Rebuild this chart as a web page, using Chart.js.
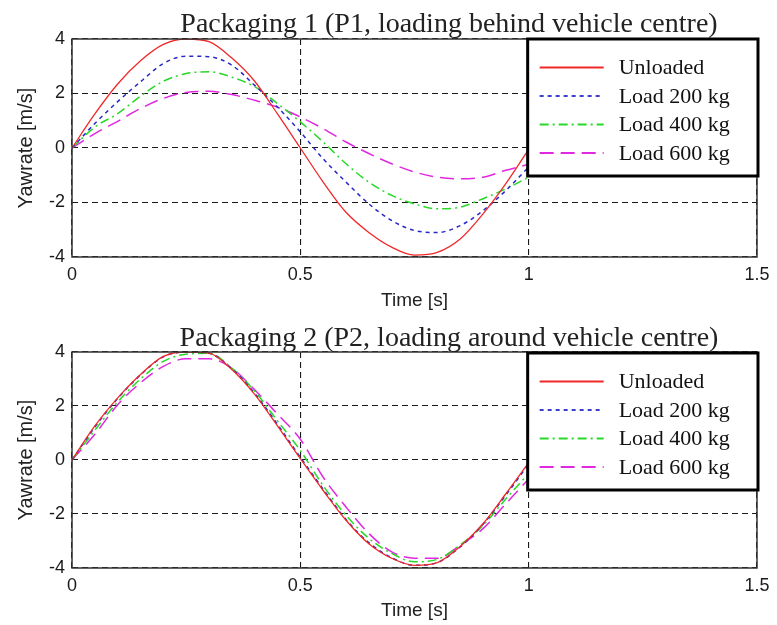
<!DOCTYPE html>
<html>
<head>
<meta charset="utf-8">
<script src="https://cdn.jsdelivr.net/npm/chart.js@4/dist/chart.umd.min.js"></script>
<style>
  html, body { margin: 0; padding: 0; background: #fff; }
  .panel { position: relative; width: 777px; }
  #top { height: 312px; }
  #bottom { height: 313px; }
</style>
</head>
<body>
<div class="panel" id="top"><canvas id="chart1"></canvas></div>
<div class="panel" id="bottom"><canvas id="chart2"></canvas></div>
<script>
// time axis (s)
const timeS = [0, 0.05, 0.1, 0.15, 0.2, 0.25, 0.3, 0.35, 0.4, 0.45, 0.5,
               0.55, 0.6, 0.65, 0.7, 0.75, 0.8, 0.85, 0.9, 0.95, 1.0];

// Packaging 1 – loading behind vehicle centre
const p1Unloaded = [0, 1.25, 2.35, 3.2, 3.8, 4.0, 3.9, 3.3, 2.45, 1.25, 0, -1.25, -2.36, -3.1, -3.64, -3.93, -3.83, -3.34, -2.42, -1.31, -0.05];
const p1Load200  = [0, 0.9, 1.7, 2.43, 3.1, 3.37, 3.35, 3.04, 2.3, 1.5, 0.59, -0.4, -1.25, -2.05, -2.66, -3.03, -3.1, -2.85, -2.3, -1.56, -0.7];
const p1Load400  = [0, 0.77, 1.26, 1.9, 2.45, 2.73, 2.8, 2.6, 2.25, 1.63, 0.96, 0.22, -0.58, -1.25, -1.74, -2.05, -2.23, -2.17, -1.86, -1.5, -1.07];
const p1Load600  = [0, 0.53, 0.98, 1.45, 1.82, 2.04, 2.08, 1.96, 1.75, 1.5, 1.14, 0.71, 0.22, -0.2, -0.58, -0.88, -1.07, -1.13, -1.07, -0.82, -0.6];

// Packaging 2 – loading around vehicle centre
const p2Unloaded = [0, 1.26, 2.3, 3.17, 3.84, 4.0, 3.96, 3.35, 2.43, 1.26, 0.05, -1.13, -2.23, -3.1, -3.64, -3.9, -3.8, -3.2, -2.36, -1.25, -0.1];
const p2Load200  = [0, 1.22, 2.28, 3.15, 3.82, 4.0, 3.95, 3.38, 2.47, 1.32, 0.1, -1.08, -2.2, -3.06, -3.62, -3.9, -3.8, -3.22, -2.38, -1.3, -0.15];
const p2Load400  = [0, 1.1, 2.15, 3.0, 3.65, 3.92, 3.95, 3.4, 2.55, 1.45, 0.35, -0.95, -2.05, -2.9, -3.46, -3.77, -3.68, -3.15, -2.42, -1.44, -0.5];
const p2Load600  = [0, 0.95, 2.05, 2.86, 3.47, 3.75, 3.75, 3.4, 2.6, 1.7, 0.77, -0.64, -1.74, -2.72, -3.4, -3.64, -3.64, -3.15, -2.54, -1.62, -0.7];

const seriesLabels = ['Unloaded', 'Load 200 kg', 'Load 400 kg', 'Load 600 kg'];
const xTicks = [0, 0.5, 1, 1.5];
const yTicks = [-4, -2, 0, 2, 4];

const styles = [
    { borderColor: '#f02828', borderDash: [], borderWidth: 1.3 },
    { borderColor: '#2828c8', borderDash: [4, 4], borderWidth: 1.5 },
    { borderColor: '#28d828', borderDash: [9, 4, 2, 4], borderWidth: 1.5 },
    { borderColor: '#e028e0', borderDash: [14, 7], borderWidth: 1.5 }
];

// frame, title and in-plot legend
const figurePlugin = {
    id: 'figure',
    afterDraw(chart, args, opts) {
        const ctx = chart.ctx;
        const area = chart.chartArea;
        const xs = chart.scales.x;
        ctx.save();
        ctx.setLineDash([]);
        ctx.strokeStyle = '#333';
        ctx.lineWidth = 1.5;
        ctx.strokeRect(area.left, area.top, area.right - area.left, area.bottom - area.top);

        ctx.fillStyle = '#222';
        ctx.font = '28px "Liberation Serif"';
        ctx.textAlign = 'center';
        ctx.textBaseline = 'alphabetic';
        ctx.fillText(opts.text, opts.titleX, area.top - opts.titleGap);

        const left = xs.getPixelForValue(1) - 1;
        const top = area.top + opts.legendOffset;
        const w = area.right + 1 - left, h = 137;
        ctx.fillStyle = '#fff';
        ctx.fillRect(left, top, w, h);
        ctx.lineWidth = 3;
        ctx.strokeStyle = '#000';
        ctx.strokeRect(left, top, w, h);

        ctx.font = '22px "Liberation Serif"';
        ctx.textAlign = 'left';
        ctx.textBaseline = 'middle';
        chart.data.datasets.forEach((ds, i) => {
            const y = top + 28.5 + i * 28.5;
            ctx.strokeStyle = ds.borderColor;
            ctx.lineWidth = 1.8;
            ctx.setLineDash(ds.borderDash);
            ctx.beginPath();
            ctx.moveTo(left + 12, y);
            ctx.lineTo(left + 76, y);
            ctx.stroke();
            ctx.setLineDash([]);
            ctx.fillStyle = '#111';
            ctx.fillText(ds.label, left + 91, y + 1);
        });
        ctx.restore();
    }
};

function makeChart(id, title, series, padTop, xHeight, titleGap, legendOffset, xTitlePad) {
    const datasets = series.map((vals, i) => ({
        label: seriesLabels[i],
        data: timeS.map((t, k) => ({ x: t, y: vals[k] })),
        borderColor: styles[i].borderColor,
        borderDash: styles[i].borderDash,
        borderWidth: styles[i].borderWidth,
        pointRadius: 0,
        fill: false,
        cubicInterpolationMode: 'monotone'
    }));
    return new Chart(document.getElementById(id), {
        type: 'line',
        data: { datasets: datasets },
        options: {
            responsive: true,
            maintainAspectRatio: false,
            animation: false,
            layout: { padding: { top: padTop, right: 20, left: 0, bottom: 0 } },
            plugins: {
                legend: { display: false },
                tooltip: { enabled: false },
                figure: { text: title, titleX: 449, titleGap: titleGap, legendOffset: legendOffset }
            },
            scales: {
                x: {
                    type: 'linear',
                    min: 0, max: 1.5,
                    afterBuildTicks: s => { s.ticks = xTicks.map(v => ({ value: v })); },
                    afterFit: s => { s.height = xHeight; },
                    grid: { color: '#1a1a1a', lineWidth: 1.1, drawTicks: false },
                    border: { display: false, dash: [6, 4] },
                    ticks: {
                        padding: 7,
                        color: '#1a1a1a',
                        font: { family: '"Liberation Sans"', size: 18 },
                        callback: v => String(v)
                    },
                    title: {
                        display: true, text: 'Time [s]', color: '#222',
                        font: { family: '"Liberation Sans"', size: 19 },
                        padding: { top: 0, bottom: xTitlePad }
                    }
                },
                y: {
                    min: -4, max: 4,
                    afterBuildTicks: s => { s.ticks = yTicks.map(v => ({ value: v })); },
                    afterFit: s => { s.width = 72; },
                    grid: { color: '#1a1a1a', lineWidth: 1.1, drawTicks: false },
                    border: { display: false, dash: [6, 4] },
                    ticks: {
                        padding: 7,
                        color: '#1a1a1a',
                        font: { family: '"Liberation Sans"', size: 18 },
                        callback: v => String(v)
                    },
                    title: {
                        display: true, text: 'Yawrate [m/s]', color: '#222',
                        font: { family: '"Liberation Sans"', size: 20 },
                        padding: { top: 14, bottom: 0 }
                    }
                }
            }
        },
        plugins: [figurePlugin]
    });
}

makeChart('chart1', 'Packaging 1 (P1, loading behind vehicle centre)',
          [p1Unloaded, p1Load200, p1Load400, p1Load600], 39, 55, 7, 0, 0);
makeChart('chart2', 'Packaging 2 (P2, loading around vehicle centre)',
          [p2Unloaded, p2Load200, p2Load400, p2Load600], 40, 57, 6, 1, 3);
</script>
</body>
</html>
